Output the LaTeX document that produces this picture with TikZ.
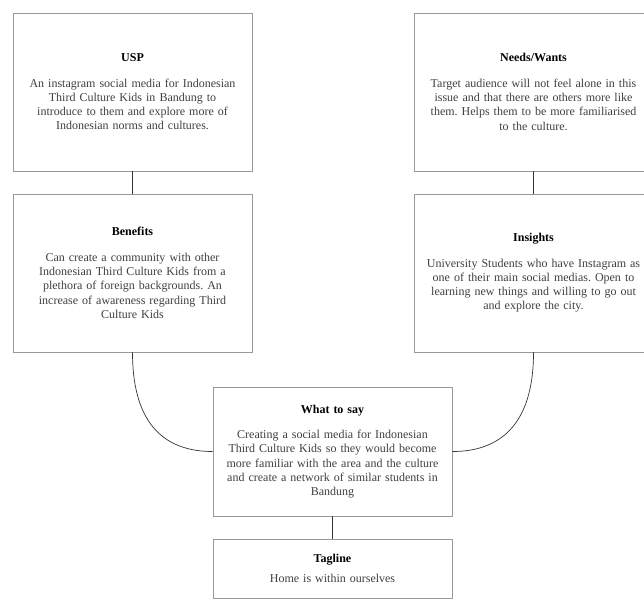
\documentclass[tikz,border=0pt]{standalone}
\usepackage{fontspec}
\setmainfont{Liberation Serif}
\frenchspacing
\begin{document}
\begin{tikzpicture}[
                x=1pt, y=-1pt,
                box/.style={rectangle, draw=black!40, fill=white, line width=0.8pt, text=black!75,
                    minimum width=239pt, minimum height=158pt, inner sep=0pt,
                    text width=236pt, align=center, font=\fontsize{12}{14.3}\selectfont},
                link/.style={draw=black!80, line width=0.7pt}
            ]
            \useasboundingbox (0,0) rectangle (644,606);

            % Top row
            \node[box] (usp) at (132.5,92) {\textcolor{black}{\textbf{USP}}\\[11pt]
                An instagram social media for Indonesian\\ Third Culture Kids in Bandung to\\
                introduce to them and explore more of\\ Indonesian norms and cultures.};
            \node[box] (needs) at (533.5,92) {\textcolor{black}{\textbf{Needs/Wants}}\\[11pt]
                Target audience will not feel alone in this\\ issue and that there are others more like\\
                them. Helps them to be more familiarised\\ to the culture.};

            % Second row
            \node[box] (benefits) at (132.5,273) {\textcolor{black}{\textbf{Benefits}}\\[11pt]
                Can create a community with other\\ Indonesian Third Culture Kids from a\\
                plethora of foreign backgrounds. An\\ increase of awareness regarding Third\\ Culture Kids};
            \node[box] (insights) at (533.5,273) {\textcolor{black}{\textbf{Insights}}\\[11pt]
                University Students who have Instagram as\\ one of their main social medias. Open to\\
                learning new things and willing to go out\\ and explore the city.};

            % Middle and bottom
            \node[box, minimum height=129pt] (whatsay) at (332.5,451.5) {\textcolor{black}{\textbf{What to say}}\\[11pt]
                Creating a social media for Indonesian\\ Third Culture Kids so they would become\\
                more familiar with the area and the culture\\ and create a network of similar students in\\ Bandung};
            \node[box, minimum height=59pt] (tagline) at (332.5,568.5) {\textcolor{black}{\textbf{Tagline}}\\[5pt]
                Home is within ourselves};

            % Links
            \draw[link] (usp) -- (benefits);
            \draw[link] (needs) -- (insights);
            \draw[link] (whatsay) -- (tagline);
            \draw[link] (benefits.south) .. controls ([yshift=-75pt]benefits.south) and ([xshift=-45pt]whatsay.west) .. (whatsay.west);
            \draw[link] (insights.south) .. controls ([yshift=-75pt]insights.south) and ([xshift=45pt]whatsay.east) .. (whatsay.east);

        \end{tikzpicture}
\end{document}
